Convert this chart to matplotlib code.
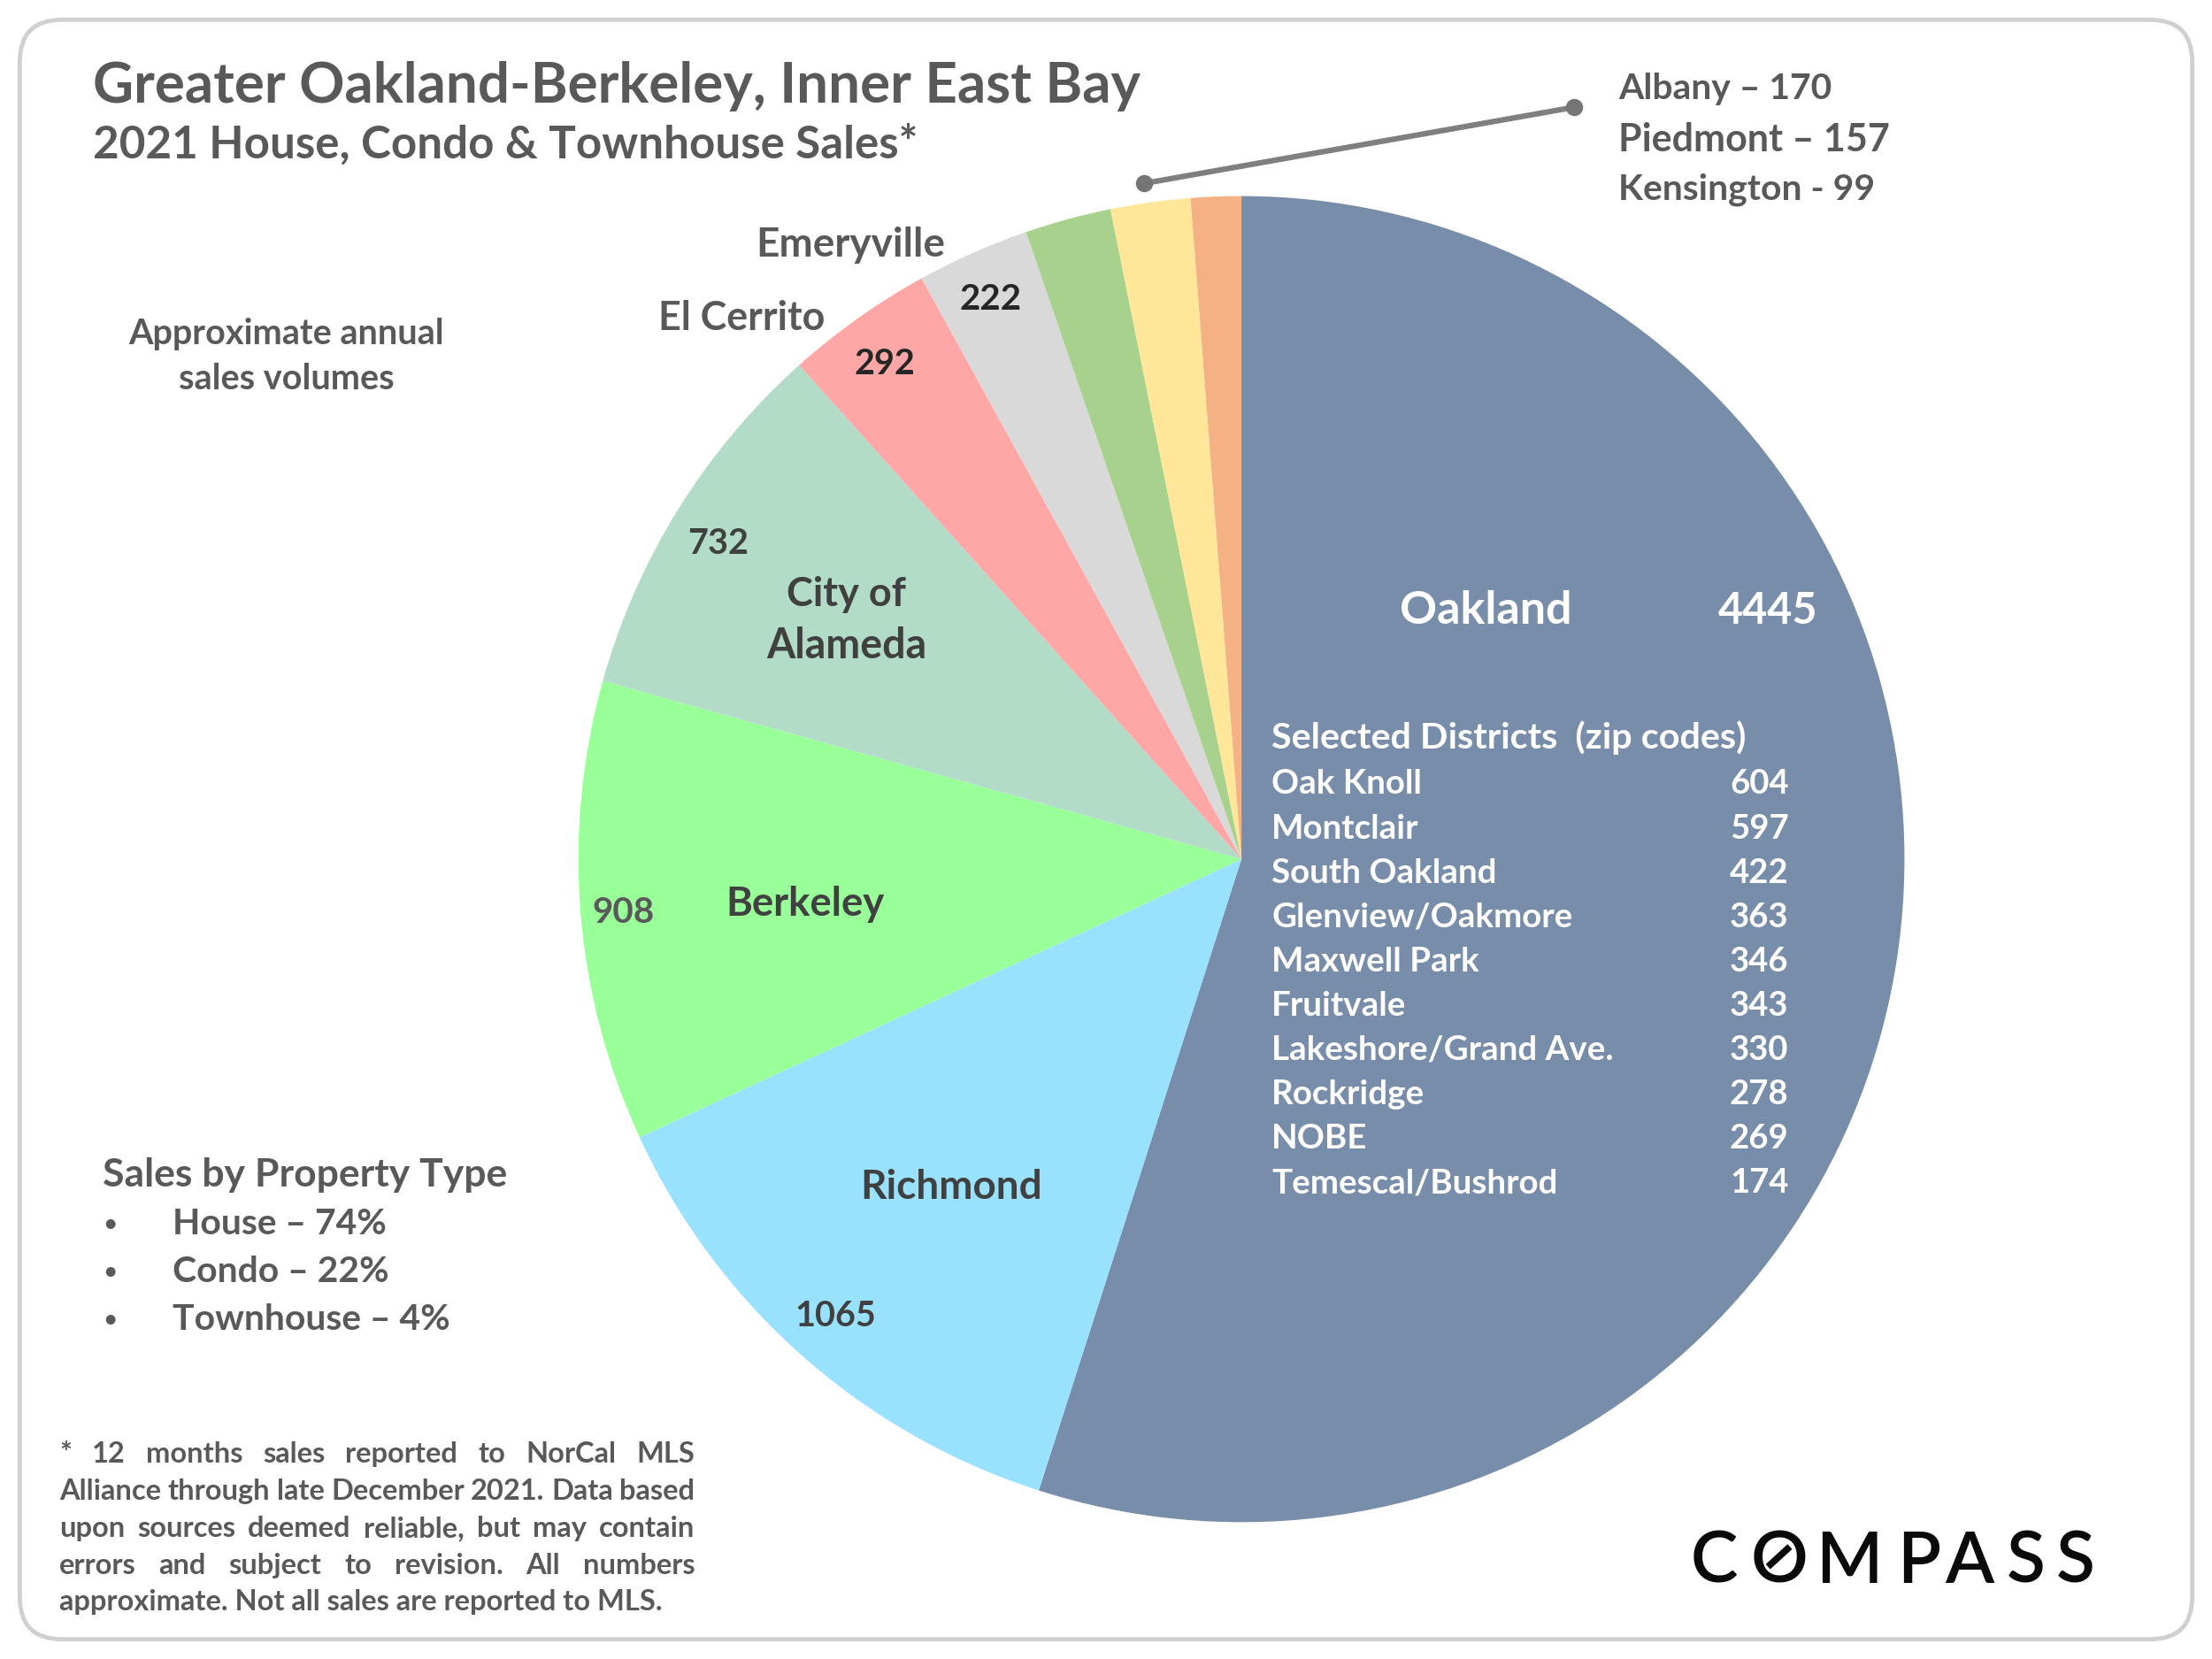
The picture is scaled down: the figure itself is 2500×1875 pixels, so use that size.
import matplotlib
matplotlib.use("Agg")
import matplotlib.pyplot as plt
from matplotlib.patches import FancyBboxPatch

plt.rcParams['font.family'] = ['Lato', 'DejaVu Sans']

W, H = 2500, 1875
S = 2500 / 1568

region_names = ["Oakland", "Richmond", "Berkeley", "City of Alameda", "El Cerrito",
                "Emeryville", "Albany", "Piedmont", "Kensington"]
region_sales = [4445, 1065, 908, 732, 292, 222, 170, 157, 99]
region_colors = ["#788DA9", "#99E2FF", "#99FF99", "#B2DBC8", "#FFA6A6",
                 "#D9D9D9", "#A9D18E", "#FFE699", "#F4B183"]
districts = ["Oak Knoll", "Montclair", "South Oakland", "Glenview/Oakmore", "Maxwell Park",
             "Fruitvale", "Lakeshore/Grand Ave.", "Rockridge", "NOBE", "Temescal/Bushrod"]
district_sales = [604, 597, 422, 363, 346, 343, 330, 278, 269, 174]
property_types = ["House \u2013 74%", "Condo \u2013 22%", "Townhouse \u2013 4%"]
footnote = ["* 12 months sales reported to NorCal MLS",
            "Alliance through late December 2021. Data based",
            "upon sources deemed reliable, but may contain",
            "errors and subject to revision. All numbers",
            "approximate. Not all sales are reported to MLS."]

fig = plt.figure(figsize=(25, 18.75), dpi=100, facecolor="white")
bg = fig.add_axes([0, 0, 1, 1])
bg.set_xlim(0, 1568); bg.set_ylim(1176, 0); bg.axis("off")
bg.add_patch(FancyBboxPatch((14, 14), 1540, 1148, boxstyle="round,pad=0,rounding_size=30",
                            fc="white", ec="#D0D0D0", lw=3.5))

cx, cy, r = 880, 609, 470
pie_ax = fig.add_axes([(cx - r) / 1568, 1 - (cy + r) / 1176, 2 * r / 1568, 2 * r / 1176])
pie_ax.pie(region_sales, colors=region_colors, startangle=90, counterclock=False, radius=1)
pie_ax.set_xlim(-1, 1); pie_ax.set_ylim(-1, 1)

ov = fig.add_axes([0, 0, 1, 1])
ov.set_xlim(0, 1568); ov.set_ylim(1176, 0); ov.axis("off"); ov.patch.set_alpha(0)

DK = "#595959"; MID = "#404040"
def T(x, y, s, size, color=DK, ha="left", weight="bold"):
    ov.text(x, y + 2, s, fontsize=size, color=color, ha=ha, va="center", fontweight=weight)

T(66, 59, "Greater Oakland-Berkeley, Inner East Bay", 45.8)
T(66, 101, "2021 House, Condo & Townhouse Sales*", 36.8)
T(203, 235, "Approximate annual", 28.5, ha="center")
T(203, 266.5, "sales volumes", 28.5, ha="center")

T(1147, 61, "Albany \u2013 170", 29.4)
T(1147, 97, "Piedmont \u2013 157", 31)
T(1147, 132.5, "Kensington - 99", 29.4)
ov.plot([811, 1116], [130, 76], color="#7F7F7F", lw=4.5,
        marker="o", ms=13, mfc="#757575", mec="#757575")

T(603, 172, "Emeryville", 33, ha="center")
T(702, 210, str(region_sales[5]), 29, color="#262626", ha="center")
T(526, 224, "El Cerrito", 32.3, ha="center")
T(627, 256, str(region_sales[4]), 28.5, color="#262626", ha="center")
T(509, 383.5, str(region_sales[3]), 28.5, ha="center", color=MID)
T(600, 419.5, "City of", 32.5, color=MID, ha="center")
T(600, 456, "Alameda", 33.5, color=MID, ha="center")
T(571, 639, region_names[2], 32.8, color=MID, ha="center")
T(442, 645, str(region_sales[2]), 29, color=DK, ha="center")
T(674, 840, region_names[1], 33, color=MID, ha="center")
T(592, 931, str(region_sales[1]), 28.5, color=MID, ha="center")

T(1053, 431, region_names[0], 37.5, color="white", ha="center")
T(1253, 431, str(region_sales[0]), 35, color="white", ha="center")
T(901.5, 521, "Selected Districts  (zip codes)", 29.8, color="white")
for i, (d, v) in enumerate(zip(districts, district_sales)):
    y = 554 + i * 31.4
    T(901.5, y, d, 27.7, color="white")
    T(1247, y, str(v), 27.5, color="white", ha="center")

T(73, 831, "Sales by Property Type", 32)
for i, p in enumerate(property_types):
    y = 866 + i * 33.8
    T(78, y, "\u2022", 18, ha="center")
    T(122, y, p, 29.4)

# justified footnote, lines spread between the two margins
renderer = fig.canvas.get_renderer()
for i, line in enumerate(footnote):
    y = 1031 + i * 26.2
    if i == len(footnote) - 1:
        T(42, y - 2, line, 23.5)
        continue
    words = line.split(" ")
    arts = [ov.text(0, y, w, fontsize=23.5, color=DK, fontweight="bold", va="center") for w in words]
    widths = [a.get_window_extent(renderer).width / S for a in arts]
    gap = (492.5 - 42 - sum(widths)) / (len(words) - 1)
    x = 42
    for a, w in zip(arts, widths):
        a.set_x(x)
        x += w + gap

# wordmark, letter by letter with its wide tracking
logo_word = "COMPASS"
logo_x = [1215, 1261, 1311, 1360, 1396, 1436, 1471]
for ch, x in zip(logo_word, logo_x):
    ov.text(x, 1103, ch, fontsize=58, color="#0A0A0A", ha="center", va="center_baseline",
            fontweight="semibold")
ov.plot([1255, 1267], [1109, 1098], color="#0A0A0A", lw=5.5)

fig.savefig("out.png", dpi=100, facecolor="white")
